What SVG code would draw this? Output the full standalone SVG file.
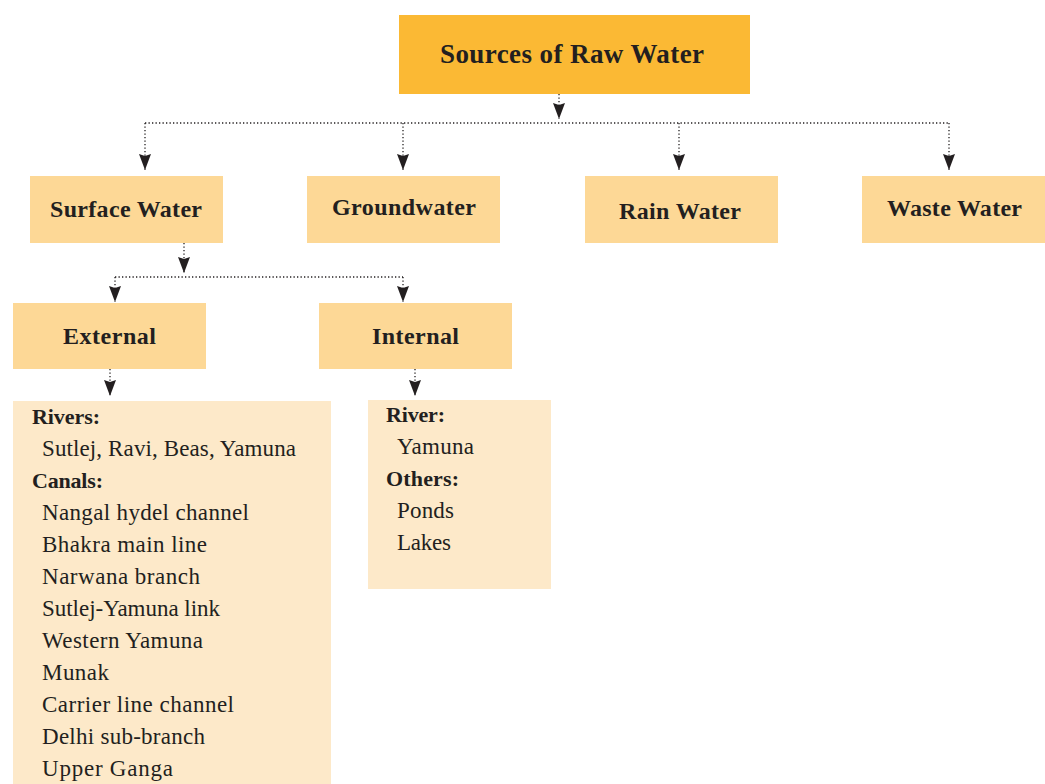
<svg xmlns="http://www.w3.org/2000/svg" width="1045" height="784" viewBox="0 0 1045 784">
<style>
.top{fill:#FBB934}
.lvl{fill:#FDD896}
.lst{fill:#FDE9C9}
text{font-family:'Liberation Serif','Times New Roman','DejaVu Serif',serif;fill:#231F20}
.h1{font-size:27px;font-weight:bold;text-anchor:middle}
.h2{font-size:24px;font-weight:bold;text-anchor:middle}
.b{font-size:22px;font-weight:bold}
.r{font-size:23px}
.c{fill:none;stroke:#231F20;stroke-width:1.3;stroke-dasharray:1.3 2.2}
</style>
<defs>
<marker id="ah" viewBox="0 0 16 12" markerUnits="userSpaceOnUse" markerWidth="16" markerHeight="12" refX="16" refY="6" orient="auto">
<path d="M0,0 L16,6 L0,12 L2,6 z" fill="#231F20"/>
</marker>
</defs>
<g id="connectors">
<path class="c" d="M559,94 V119" marker-end="url(#ah)"/>
<path class="c" d="M145,123 H949"/>
<path class="c" d="M145,123 V170" marker-end="url(#ah)"/>
<path class="c" d="M403,123 V170" marker-end="url(#ah)"/>
<path class="c" d="M679,123 V170" marker-end="url(#ah)"/>
<path class="c" d="M949,123 V170" marker-end="url(#ah)"/>
<path class="c" d="M184,243 V273" marker-end="url(#ah)"/>
<path class="c" d="M115,277 H403"/>
<path class="c" d="M115,277 V302" marker-end="url(#ah)"/>
<path class="c" d="M403,277 V302" marker-end="url(#ah)"/>
<path class="c" d="M110,369 V396" marker-end="url(#ah)"/>
<path class="c" d="M415,369 V396" marker-end="url(#ah)"/>
</g>
<g font-family="Liberation Serif, serif">
<g id="sources">
<rect class="top" x="399" y="15" width="351" height="79"/>
<text class="h1" x="572" y="63" textLength="264">Sources of Raw Water</text>
</g>
<g id="surface">
<rect class="lvl" x="30" y="176" width="193" height="67"/>
<text class="h2" x="126" y="217" textLength="152">Surface Water</text>
</g>
<g id="groundwater">
<rect class="lvl" x="307" y="176" width="193" height="67"/>
<text class="h2" x="404" y="215" textLength="144">Groundwater</text>
</g>
<g id="rain">
<rect class="lvl" x="585" y="176" width="193" height="67"/>
<text class="h2" x="680" y="219" textLength="122">Rain Water</text>
</g>
<g id="waste">
<rect class="lvl" x="862" y="176" width="183" height="67"/>
<text class="h2" x="954.5" y="216" textLength="135">Waste Water</text>
</g>
<g id="external">
<rect class="lvl" x="13" y="303" width="193" height="66"/>
<text class="h2" x="109.5" y="344" textLength="93">External</text>
</g>
<g id="internal">
<rect class="lvl" x="319" y="303" width="193" height="66"/>
<text class="h2" x="415.5" y="344" textLength="87">Internal</text>
</g>
<g id="external-list">
<rect class="lst" x="13" y="401" width="318" height="383"/>
<text class="b" x="32" y="424" textLength="68">Rivers:</text>
<text class="r" x="42" y="456" textLength="254">Sutlej, Ravi, Beas, Yamuna</text>
<text class="b" x="32" y="488" textLength="71">Canals:</text>
<text class="r" x="42" y="520" textLength="207">Nangal hydel channel</text>
<text class="r" x="42" y="552" textLength="165">Bhakra main line</text>
<text class="r" x="42" y="584" textLength="158">Narwana branch</text>
<text class="r" x="42" y="616" textLength="178">Sutlej-Yamuna link</text>
<text class="r" x="42" y="648" textLength="161">Western Yamuna</text>
<text class="r" x="42" y="680" textLength="67">Munak</text>
<text class="r" x="42" y="712" textLength="192">Carrier line channel</text>
<text class="r" x="42" y="744" textLength="163">Delhi sub-branch</text>
<text class="r" x="42" y="776" textLength="131">Upper Ganga</text>
</g>
<g id="internal-list">
<rect class="lst" x="368" y="400" width="183" height="189"/>
<text class="b" x="386" y="422" textLength="59">River:</text>
<text class="r" x="397" y="454" textLength="77">Yamuna</text>
<text class="b" x="386" y="486" textLength="73">Others:</text>
<text class="r" x="397" y="518" textLength="57">Ponds</text>
<text class="r" x="397" y="550" textLength="54">Lakes</text>
</g>
</g>
</svg>
